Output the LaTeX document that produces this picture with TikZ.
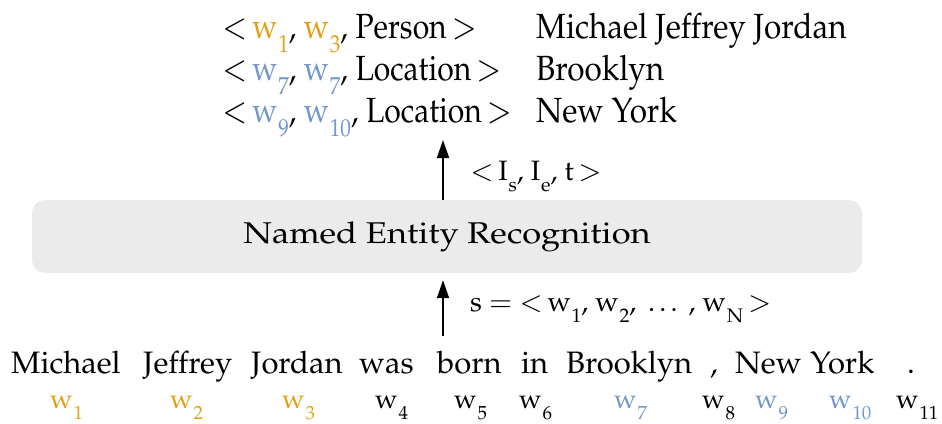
\documentclass[tikz,border=0pt]{standalone}
\usepackage[T1]{fontenc}
\usepackage{mathpazo}
\usepackage{graphicx}
\usetikzlibrary{arrows.meta}
\definecolor{entgold}{HTML}{E0A010}
\definecolor{entblue}{HTML}{7097CA}
\definecolor{boxgray}{HTML}{EBEBEB}
% deep subscript
\newcommand{\lowsub}[1]{\kern0.03em\raisebox{-0.42em}{\scalebox{0.7}{#1}}}
\newcommand{\wtok}[2]{\textcolor{#1}{w\lowsub{#2}}}
\newcommand{\condA}[1]{\scalebox{0.9}[1]{#1}}
\newcommand{\condB}[1]{\scalebox{0.86}[1]{#1}}
\newcommand{\extended}[1]{\scalebox{1.15}[1]{#1}}
\begin{document}
\begin{tikzpicture}[x=1pt,y=-1pt,
  txt/.style={inner sep=0pt, anchor=base west, font=\fontsize{35}{40}\selectfont},
  tok/.style={inner sep=0pt, anchor=base west, font=\fontsize{31}{36}\selectfont},
  idx/.style={inner sep=0pt, anchor=base west, font=\fontsize{27}{32}\selectfont},
  lbl/.style={inner sep=0pt, anchor=base west, font=\fontsize{28}{32}\selectfont},
  flow/.style={line width=1.8pt, -{Triangle[length=18pt,width=12pt]}},
  modulebox/.style={fill=boxgray, rounded corners=13pt, draw=none, inner sep=0pt,
    minimum width=830pt, minimum height=73pt,
    font=\fontsize{30}{36}\selectfont}]
\useasboundingbox (0,0) rectangle (942,423);

% extracted entity tuples and their surface strings
\node[txt] (r1) at (222,38) {\condB{$<$\,\wtok{entgold}{1}, \wtok{entgold}{3}, Person\,$>$}};
\node[txt] (r2) at (222,80) {\condB{$<$\,\wtok{entblue}{7}, \wtok{entblue}{7}, Location\,$>$}};
\node[txt] (r3) at (222,122) {\condB{$<$\,\wtok{entblue}{9}, \wtok{entblue}{10}, Location\,$>$}};
\node[txt] (s1) at (536,38) {\condA{Michael Jeffrey Jordan}};
\node[txt] (s2) at (536,80) {\condA{Brooklyn}};
\node[txt] (s3) at (536,122) {\condA{New York}};
\coordinate (outtip) at (443,140);

% recognition module
\node[modulebox] (ner) at (447,236.5) {\extended{Named Entity Recognition}};

\node[lbl] (outlbl) at (470,180) {$<$\,I\lowsub{s}, I\lowsub{e}, t\,$>$};
\node[lbl] (inlbl) at (470,311) {s $=$ $<$\,w\lowsub{1}, w\lowsub{2}, \,\dots\ , w\lowsub{N}\,$>$};

% input sentence
\node[tok] (t1) at (11,373.5) {Michael};
\node[tok] (t2) at (143,373.5) {Jeffrey};
\node[tok] (t3) at (251,373.5) {Jordan};
\node[tok] (t4) at (359,373.5) {was};
\node[tok] (t5) at (437,373.5) {born};
\node[tok] (t6) at (521,373.5) {in};
\node[tok] (t7) at (566,373.5) {Brooklyn};
\node[tok] (t8) at (710,373.5) {,};
\node[tok] (t9) at (735,373.5) {New};
\node[tok] (t10) at (810,373.5) {York};
\node[tok] (t11) at (907,373.5) {.};
\coordinate (intail) at (443,336);

% token indices
\node[idx] (w1) at (50,408) {\wtok{entgold}{1}};
\node[idx] (w2) at (170,408) {\wtok{entgold}{2}};
\node[idx] (w3) at (282,408) {\wtok{entgold}{3}};
\node[idx] (w4) at (375,408) {\wtok{black}{4}};
\node[idx] (w5) at (454,408) {\wtok{black}{5}};
\node[idx] (w6) at (519,408) {\wtok{black}{6}};
\node[idx] (w7) at (614,408) {\wtok{entblue}{7}};
\node[idx] (w8) at (702,408) {\wtok{black}{8}};
\node[idx] (w9) at (755,408) {\wtok{entblue}{9}};
\node[idx] (w10) at (829,408) {\wtok{entblue}{10}};
\node[idx] (w11) at (896,408) {\wtok{black}{11}};

% data flow
\draw[flow] (intail) -- ([yshift=-7pt]intail |- ner.south);
\draw[flow] (outtip |- ner.north) -- (outtip);
\end{tikzpicture}
\end{document}
